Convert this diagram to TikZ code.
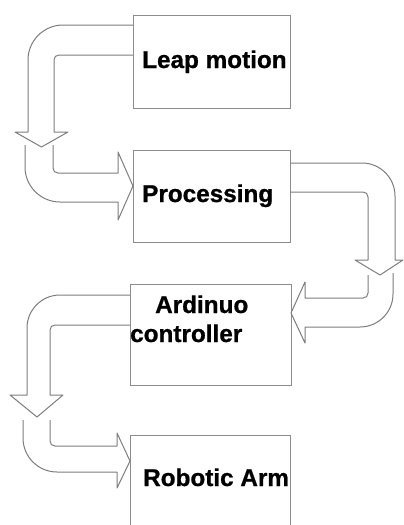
\documentclass[tikz,border=0pt]{standalone}
\usepackage{fontspec}
\setmainfont{Liberation Sans}
\newfontfamily\lblfont{Liberation Sans Bold}[FakeBold=0.8]
\begin{document}
\begin{tikzpicture}[x=1pt,y=-1pt]
\definecolor{linegray}{RGB}{125,125,125}
\definecolor{boxgray}{RGB}{140,140,140}
\tikzset{
  boxstyle/.style={draw=boxgray,line width=0.8pt,inner sep=0pt,outer sep=0pt},
  blockarrow/.style={draw=linegray,line width=1pt,line join=round},
  label/.style={inner sep=0pt,anchor=base west,font=\lblfont\fontsize{24.3}{26}\selectfont}
}
\useasboundingbox (0,0) rectangle (404,525);
\clip (0,0) rectangle (404,525);
\fill[white] (0,0) rectangle (404,525);
% boxes
\node[boxstyle,minimum width=157pt,minimum height=93pt] (b1) at (211.5,61.5) {};
\node[boxstyle,minimum width=157pt,minimum height=92pt] (b2) at (211.5,196) {};
\node[boxstyle,minimum width=161pt,minimum height=101pt] (b3) at (210.5,334.5) {};
\node[boxstyle,minimum width=160pt,minimum height=110pt] (b4) at (210,490) {};
% texts
\node[label] (t1) at (142,68) {Leap motion};
\node[label] (t2) at (142,202) {Processing};
\node[label] (t3) at (155,313) {Ardinuo};
\node[label] (t3b) at (130,342) {controller};
\node[label] (t4) at (143,486) {Robotic Arm};
% arrow 1: Leap motion -> down
\draw[blockarrow] (b1.west |- 0,25) -- (63,25) .. controls (43.7,25) and (28,40.7) .. (28,60)
  -- (28,132) -- (15,132) -- (41.5,147) -- (68,132) -- (54,132) -- (54,60)
  .. controls (54,57) and (56,55) .. (59,55) -- (b1.west |- 0,55);
% arrow 2: down -> Processing
\draw[blockarrow] (25,145) -- (25,167) .. controls (25,186.3) and (40.7,202) .. (60,202)
  -- (118,202) -- (118,220) -- (b2.west |- 0,186) -- (118,152) -- (118,173) -- (58,173)
  .. controls (55,173) and (53,171) .. (53,168) -- (53,145);
% arrow 3: Processing -> down right
\draw[blockarrow] (b2.east |- 0,163) -- (362,163) .. controls (380.2,163) and (395,177.8) .. (395,196)
  -- (395,260) -- (403,260) -- (380,275) -- (355,260) -- (368,260) -- (368,197)
  .. controls (368,194) and (366,192) .. (363,192) -- (b2.east |- 0,192);
% arrow 4: down -> Ardinuo controller
\draw[blockarrow] (393,273) -- (393,294) .. controls (393,312.2) and (378.2,327) .. (360,327)
  -- (305,327) -- (305,343) -- (b3.east |- 0,313) -- (305,282) -- (305,298) -- (363,298)
  .. controls (366,298) and (368,296) .. (368,293) -- (368,275);
% arrow 5: Ardinuo controller -> down
\draw[blockarrow] (b3.west |- 0,295) -- (60,295) .. controls (41.8,295) and (27,309.8) .. (27,328)
  -- (27,395) -- (10,395) -- (37,417) -- (63,395) -- (50,395) -- (50,330)
  .. controls (50,327) and (52,325) .. (55,325) -- (b3.west |- 0,325);
% arrow 6: down -> Robotic Arm
\draw[blockarrow] (23,420) -- (23,438) .. controls (23,456.8) and (38.2,472) .. (57,472)
  -- (117,472) -- (117,488) -- (b4.west |- 0,461) -- (117,433) -- (117,446) -- (55,446)
  .. controls (52,446) and (50,444) .. (50,441) -- (50,420);
\end{tikzpicture}
\end{document}
